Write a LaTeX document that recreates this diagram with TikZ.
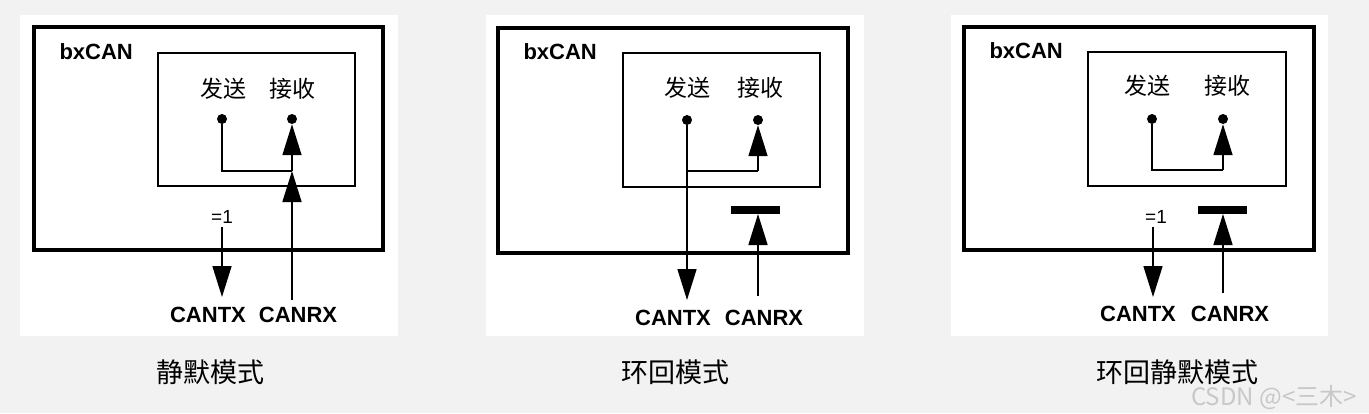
\documentclass[tikz,border=0pt]{standalone}
\usepackage{fontspec}
\setmainfont{Liberation Sans}
\newfontfamily\cjk{Noto Sans CJK SC}
\usetikzlibrary{arrows.meta}
\definecolor{bggray}{RGB}{242,242,242}
\definecolor{wmgray}{RGB}{200,200,200}
\tikzset{dot/.style={circle,fill=black,inner sep=0pt,minimum size=10pt},
         obox/.style={draw,line width=3.2pt},
         ibox/.style={draw,line width=1.4pt},
         wire/.style={line width=1.6pt},
         arr/.style={line width=1.6pt,-{Triangle[length=31pt,width=19pt]}},
         tbar/.style={line width=8pt},
         pin/.style={font=\fontsize{22}{22}\selectfont\bfseries},
         eq/.style={font=\fontsize{19}{19}\selectfont},
         zh/.style={font=\fontsize{23}{23}\selectfont\cjk},
         modelbl/.style={inner sep=0pt,font=\fontsize{27}{27}\selectfont\cjk}
}
\begin{document}
\begin{tikzpicture}[x=1pt,y=-1pt]
        \fill[bggray] (0,0) rectangle (1369,413);
        \useasboundingbox (0,0) rectangle (1369,413);

        % silent mode
        \begin{scope}[xshift=34pt]
        \fill[white] (-14,15) rectangle (364,336);
        \draw[obox] (0,27) rectangle (349,250);
        \draw[ibox] (124,53) rectangle (321,186);
        \node[pin, anchor=west] (bx1) at (22,52) {bxCAN};
        \node[zh] (send1) at (189,89) {发送};
        \node[zh] (recv1) at (258,89) {接收};
        \node[dot] (tx1) at (188,119) {};
        \node[dot] (rx1) at (258,119) {};
        \coordinate (J1) at (258,171);
        \draw[wire] (tx1) |- (J1);
        \draw[arr] (J1) -- (rx1);
        \node[eq] (eq1) at (188,217) {=1};
        \coordinate (tt1) at (188,297);
        \draw[arr] (eq1.south) -- (tt1);
        \coordinate (rb1) at (258,300);
        \draw[arr] (rb1) -- (J1);
        \node[pin] (cantx1) at (174,315) {CANTX};
        \node[pin] (canrx1) at (264,315) {CANRX};
        \node[modelbl] (cap1) at (176,372) {静默模式};
        \end{scope}

        % loop back mode
        \begin{scope}[xshift=498pt]
        \fill[white] (-12,15) rectangle (366,336);
        \draw[obox] (0,28) rectangle (350,253);
        \draw[ibox] (125,53) rectangle (322,187);
        \node[pin, anchor=west] (bx2) at (22,52) {bxCAN};
        \node[zh] (send2) at (189,88) {发送};
        \node[zh] (recv2) at (262,88) {接收};
        \node[dot] (tx2) at (189,120) {};
        \node[dot] (rx2) at (260,120) {};
        \coordinate (J2) at (260,171);
        \coordinate (K2) at (189,171);
        \draw[wire] (K2) -- (J2);
        \draw[arr] (J2) -- (rx2);
        \coordinate (tt2) at (189,300);
        \draw[arr] (tx2) -- (tt2);
        \coordinate (bl2) at (233,210);
        \coordinate (br2) at (282,210);
        \draw[tbar] (bl2) -- (br2);
        \coordinate (bm2) at (260,214);
        \coordinate (rb2) at (260,296);
        \draw[arr] (rb2) -- (bm2);
        \node[pin] (cantx2) at (175,318) {CANTX};
        \node[pin] (canrx2) at (266,318) {CANRX};
        \node[modelbl] (cap2) at (177,372) {环回模式};
        \end{scope}

        % loop back + silent mode
        \begin{scope}[xshift=964pt]
        \fill[white] (-13,15) rectangle (364,336);
        \draw[obox] (0,27) rectangle (350,250);
        \draw[ibox] (124,52) rectangle (322,186);
        \node[pin, anchor=west] (bx3) at (22,51) {bxCAN};
        \node[zh] (send3) at (183,86) {发送};
        \node[zh] (recv3) at (263,86) {接收};
        \node[dot] (tx3) at (188,119) {};
        \node[dot] (rx3) at (259,119) {};
        \coordinate (J3) at (259,170);
        \draw[wire] (tx3) |- (J3);
        \draw[arr] (J3) -- (rx3);
        \node[eq] (eq3) at (192,217) {=1};
        \coordinate (tt3) at (189,297);
        \draw[arr] (eq3.south -| tt3) -- (tt3);
        \coordinate (bl3) at (234,210);
        \coordinate (br3) at (283,210);
        \draw[tbar] (bl3) -- (br3);
        \coordinate (bm3) at (259,214);
        \coordinate (rb3) at (259,293);
        \draw[arr] (rb3) -- (bm3);
        \node[pin] (cantx3) at (174,314) {CANTX};
        \node[pin] (canrx3) at (266,314) {CANRX};
        \node[modelbl] (cap3) at (213,372) {环回静默模式};
        \end{scope}

        \node[inner sep=0pt, font=\fontsize{24}{24}\selectfont\cjk, text=wmgray] (wm) at (1274,398) {CSDN @<三木>};
\end{tikzpicture}
\end{document}
